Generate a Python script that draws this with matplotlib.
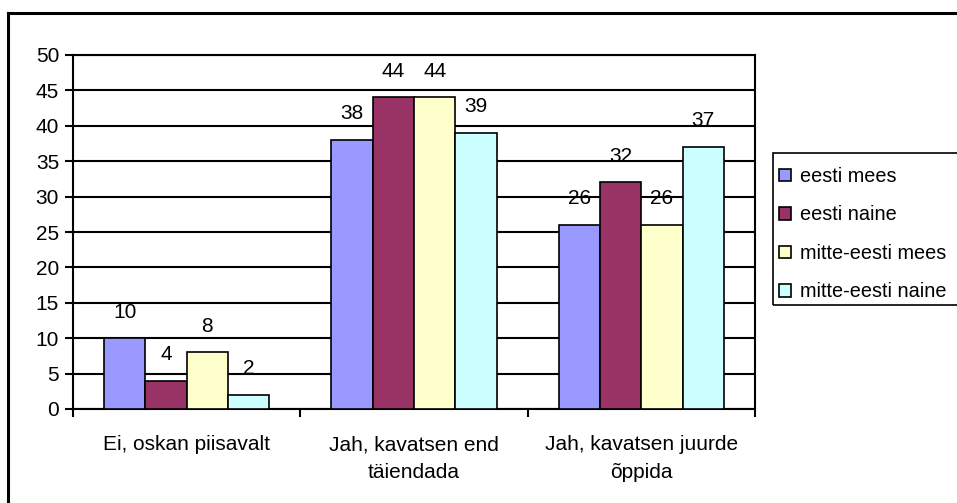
import numpy as np
import matplotlib.pyplot as plt
from matplotlib.lines import Line2D
from matplotlib.patches import Patch, Rectangle

plt.rcParams['font.family'] = ['Liberation Sans', 'DejaVu Sans']

# data
categories = ['Ei, oskan piisavalt', 'Jah, kavatsen end\ntäiendada', 'Jah, kavatsen juurde\nõppida']
series = ['eesti mees', 'eesti naine', 'mitte-eesti mees', 'mitte-eesti naine']
eesti_mees = [10, 38, 26]
eesti_naine = [4, 44, 32]
mitte_eesti_mees = [8, 44, 26]
mitte_eesti_naine = [2, 39, 37]
colors = ['#9999FF', '#993366', '#FFFFCC', '#CCFFFF']

values = [eesti_mees, eesti_naine, mitte_eesti_mees, mitte_eesti_naine]
fs = 15

fig = plt.figure(figsize=(9.57, 5.03), dpi=100)
ax = fig.add_axes([73/957, 1-409/503, (755-73)/957, (409-55)/503])

x = np.arange(len(categories))
w = 1/5.5
for i, (vals, c) in enumerate(zip(values, colors)):
    pos = x + (i - 1.5) * w
    ax.bar(pos, vals, width=w, color=c, edgecolor='black', linewidth=1.2, zorder=3)
    for p, v in zip(pos, vals):
        ax.annotate(str(v), (p, v), xytext=(0, 12), textcoords='offset points',
                    ha='center', va='bottom', fontsize=fs)

ax.set_xlim(-0.5, 2.5)
ax.set_ylim(0, 50)
ax.set_yticks(range(0, 51, 5))
ax.yaxis.grid(True, color='black', linewidth=1.5, zorder=0)
ax.tick_params(axis='y', labelsize=fs, length=6, width=1.5, direction='out', pad=4)

ax.set_xticks([-0.5, 0.5, 1.5, 2.5])
ax.set_xticklabels([])
ax.set_xticks(x, minor=True)
ax.set_xticklabels(categories, minor=True, fontsize=fs, linespacing=1.6)
ax.tick_params(axis='x', which='major', length=6, width=1.5, direction='out')
ax.tick_params(axis='x', which='minor', length=0, pad=19)

for s in ax.spines.values():
    s.set_linewidth(1.5)

# legend: entries without frame, box drawn separately
handles = [Patch(facecolor=c, edgecolor='black', linewidth=1.2) for c in colors]
leg = fig.legend(handles, series, loc='upper left', bbox_to_anchor=(775/957, 1-163/503),
                 fontsize=14.3, frameon=False, handlelength=0.6,
                 handleheight=0.6, handletextpad=0.45, labelspacing=0.98,
                 borderaxespad=0, borderpad=0.2)
fig.add_artist(Rectangle((773/957, 1-305/503), 1, (305-153)/503, transform=fig.transFigure,
                         fill=False, edgecolor='black', linewidth=1.2))

# outer chart border (top and left visible)
fig.add_artist(Line2D([8/957, 1], [1-13/503, 1-13/503], color='black', linewidth=2.2))
fig.add_artist(Line2D([8/957, 8/957], [0, 1-13/503], color='black', linewidth=2.2))

fig.savefig('out.png', dpi=100)
